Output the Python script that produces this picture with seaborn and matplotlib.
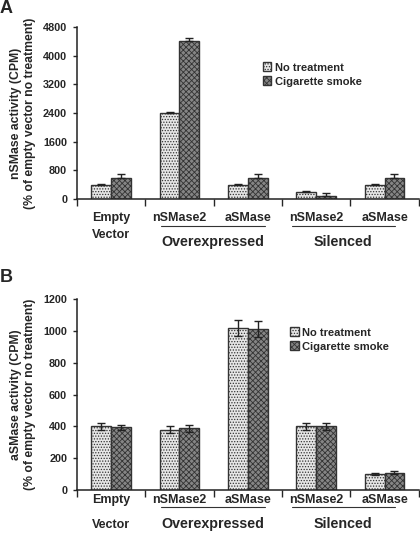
import numpy as np
import pandas as pd
import matplotlib.pyplot as plt
import matplotlib.patches as mpatches
import seaborn as sns

sns.set_style('ticks')
plt.rcParams['font.family'] = ['Liberation Sans', 'DejaVu Sans']
plt.rcParams['font.weight'] = 'bold'
plt.rcParams['hatch.linewidth'] = 0.6

# data
conditions = ["Empty Vector", "OE nSMase2", "OE aSMase", "Si nSMase2", "Si aSMase"]
group_labels = ["Empty\nVector", "nSMase2", "aSMase", "nSMase2", "aSMase"]
treatments = ["No treatment", "Cigarette smoke"]

a_no_treat = [400, 2400, 400, 200, 400]
a_smoke = [600, 4400, 600, 80, 600]
a_no_treat_err = [30, 20, 30, 30, 30]
a_smoke_err = [110, 100, 110, 90, 110]

b_no_treat = [400, 380, 1020, 400, 100]
b_smoke = [395, 388, 1012, 400, 110]
b_no_treat_err = [25, 20, 50, 22, 5]
b_smoke_err = [15, 20, 50, 22, 8]

colors = {"No treatment": "#e6e6e6", "Cigarette smoke": "#858585"}
hatches = {"No treatment": "......", "Cigarette smoke": "xxxxxx"}


def panel(ax, nt, cs, nt_err, cs_err, ylim, yticks, ylabel, lab_y, leg_pos, upper_only):
    df = pd.DataFrame({
        "cond": conditions * 2,
        "treat": [treatments[0]] * 5 + [treatments[1]] * 5,
        "val": nt + cs,
        "err": nt_err + cs_err,
    })
    sns.barplot(data=df, x="cond", y="val", hue="treat", order=conditions,
                hue_order=treatments, palette=colors, width=0.58, errorbar=None,
                edgecolor="#333333", linewidth=1.0, ax=ax, legend=False)
    bars = [p for p in ax.patches if isinstance(p, mpatches.Rectangle)][:10]
    for i, p in enumerate(bars):
        t = treatments[i // 5]
        p.set_hatch(hatches[t])
        x = p.get_x() + p.get_width() / 2
        e = df["err"].iloc[i]
        yerr = [[0], [e]] if upper_only else [[e], [e]]
        ax.errorbar(x, p.get_height(), yerr=yerr, fmt="none", ecolor="#222222",
                    elinewidth=1.0, capsize=3, capthick=1.0)

    ax.set_xlim(-0.5, 4.5)
    ax.set_ylim(*ylim)
    ax.set_yticks(yticks)
    ax.set_xticks(np.arange(-0.5, 5.0, 1.0))
    ax.set_xticklabels([])
    ax.tick_params(axis="x", length=5, width=1)
    ax.tick_params(axis="y", length=3, width=1, labelsize=7.8, pad=4)
    for lbl in ax.get_yticklabels():
        lbl.set_fontweight("bold")
    ax.set_xlabel("")
    ax.set_ylabel(ylabel, fontsize=8.8, fontweight="bold", labelpad=5, linespacing=1.25)
    sns.despine(ax=ax)
    for s in ["left", "bottom"]:
        ax.spines[s].set_linewidth(1.1)
        ax.spines[s].set_color("#222222")

    tr = ax.get_xaxis_transform()
    y1, dy, yline, yspan = lab_y
    for i, g in enumerate(group_labels):
        for k, line in enumerate(g.split("\n")):
            ax.text(i, y1 - k * dy, line, transform=tr, ha="center", va="center",
                    fontsize=9, fontweight="bold")
    for (x0, x1, name) in [(0.73, 2.25, "Overexpressed"), (2.64, 4.15, "Silenced")]:
        ax.plot([x0, x1], [yline, yline], transform=tr, color="#333333",
                lw=0.8, clip_on=False)
        ax.text((x0 + x1) / 2, yspan, name, transform=tr, ha="center", va="center",
                fontsize=10.3, fontweight="bold")

    handles = [mpatches.Patch(facecolor=colors[t], hatch=hatches[t], edgecolor="#333333",
                              label=t) for t in treatments]
    ax.legend(handles=handles, loc="upper left", bbox_to_anchor=leg_pos, frameon=False,
              fontsize=8, handlelength=0.8, handleheight=0.8, handletextpad=0.3,
              labelspacing=0.35, borderaxespad=0)


fig = plt.figure(figsize=(4.2, 5.41), dpi=100)
ax_a = fig.add_axes([0.183, 0.632, 0.814, 0.318])
ax_b = fig.add_axes([0.183, 0.094, 0.814, 0.353])

panel(ax_a, a_no_treat, a_smoke, a_no_treat_err, a_smoke_err, (0, 4800),
      np.arange(0, 4801, 800),
      "nSMase activity (CPM)\n(% of empty vector no treatment)",
      (-0.110, 0.099, -0.157, -0.250), (0.53, 0.82), True)
panel(ax_b, b_no_treat, b_smoke, b_no_treat_err, b_smoke_err, (0, 1200),
      np.arange(0, 1201, 200),
      "aSMase activity (CPM)\n(% of empty vector no treatment)",
      (-0.052, 0.131, -0.089, -0.178), (0.61, 0.875), False)

fig.text(0.0, 1.0, "A", fontsize=13, fontweight="bold", va="top", ha="left")
fig.text(0.0, 0.502, "B", fontsize=13, fontweight="bold", va="top", ha="left")

fig.savefig("out.png", dpi=100)
